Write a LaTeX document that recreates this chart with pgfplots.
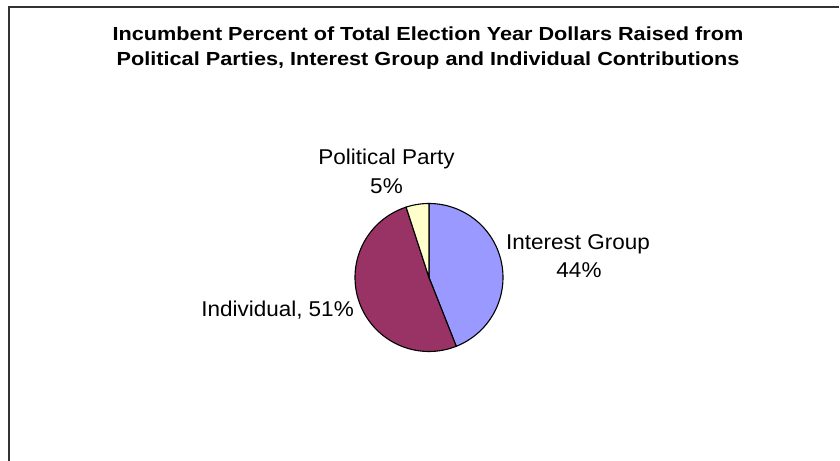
\documentclass[border=0pt]{standalone}
\usepackage{pgfplots}
\pgfplotsset{compat=1.18}
\usepackage{fontspec}
\setmainfont{Liberation Sans}
\newfontfamily\titlefont[FakeStretch=1.145]{Liberation Sans Bold}
\newfontfamily\labelfont[FakeStretch=1.05]{Liberation Sans}
\definecolor{cInterest}{HTML}{9999FF}
\definecolor{cIndiv}{HTML}{993366}
\definecolor{cParty}{HTML}{FFFFCC}
% pie data (percent)
\def\vInterest{44}
\def\vIndiv{51}
\def\vParty{5}
\def\cx{429}
\def\cy{183.5}
\def\rr{74}
\begin{document}
\begin{tikzpicture}
\begin{axis}[
  width=840bp, height=461bp, scale only axis,
  xmin=0, xmax=840, ymin=0, ymax=461,
  hide axis, clip=false,
]
% frame (left and top edges)
\addplot[draw=black!80, line width=1.5bp] coordinates {(9,0) (9,454) (839,454)};
% slices: start at 12 o'clock, clockwise
\pgfmathsetmacro{\aA}{90}
\pgfmathsetmacro{\aB}{90-3.6*\vInterest}
\pgfmathsetmacro{\aC}{\aB-3.6*\vIndiv}
\pgfmathsetmacro{\aD}{\aC-3.6*\vParty}
\addplot[fill=cInterest, draw=black, line width=1.1bp, domain=\aA:\aB, samples=80, variable=\t]
  ({\cx+\rr*cos(t)},{\cy+\rr*sin(t)}) -- (axis cs:\cx,\cy) -- cycle;
\addplot[fill=cIndiv, draw=black, line width=1.1bp, domain=\aB:\aC, samples=80, variable=\t]
  ({\cx+\rr*cos(t)},{\cy+\rr*sin(t)}) -- (axis cs:\cx,\cy) -- cycle;
\addplot[fill=cParty, draw=black, line width=1.1bp, domain=\aC:\aD, samples=20, variable=\t]
  ({\cx+\rr*cos(t)},{\cy+\rr*sin(t)}) -- (axis cs:\cx,\cy) -- cycle;
% title
\node[anchor=base, font=\titlefont\fontsize{19}{22}\selectfont] at (axis cs:428,420) {Incumbent Percent of Total Election Year Dollars Raised from};
\node[anchor=base, font=\titlefont\fontsize{19}{22}\selectfont] at (axis cs:428,395) {Political Parties, Interest Group and Individual Contributions};
% labels
\node[anchor=base, font=\labelfont\fontsize{21.5}{24}\selectfont] at (axis cs:386.5,296) {Political Party};
\node[anchor=base, font=\labelfont\fontsize{21.5}{24}\selectfont] at (axis cs:386.5,267) {5\%};
\node[anchor=base, font=\labelfont\fontsize{21.5}{24}\selectfont] at (axis cs:578,211) {Interest Group};
\node[anchor=base, font=\labelfont\fontsize{21.5}{24}\selectfont] at (axis cs:579,183) {44\%};
\node[anchor=base east, font=\labelfont\fontsize{21.5}{24}\selectfont, inner sep=0pt] at (axis cs:354,144) {Individual, 51\%};
\end{axis}
\pgfresetboundingbox
\useasboundingbox (0,0) rectangle (840bp,461bp);
\end{tikzpicture}
\end{document}
